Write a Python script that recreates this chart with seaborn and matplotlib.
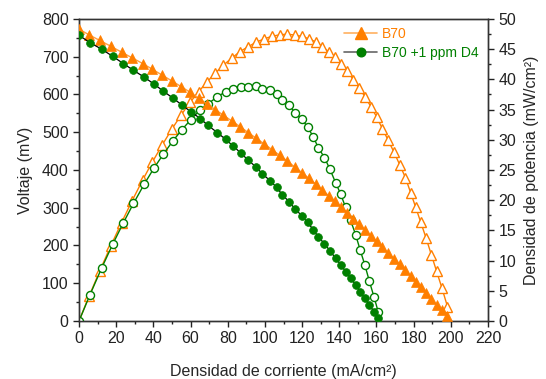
import matplotlib
matplotlib.use("Agg")
import matplotlib.pyplot as plt
from matplotlib.lines import Line2D
from matplotlib.ticker import MultipleLocator
import seaborn as sns
import pandas as pd

# ---------------- data ----------------
b70_current = [0, 5.4, 11.2, 17.0, 22.9, 28.6, 34.2, 39.4, 44.8, 49.9, 54.9, 59.7, 64.3,
               68.8, 73.3, 77.7, 82.1, 86.6, 91.0, 95.4, 99.6, 103.8, 107.9, 112.0, 116.0,
               119.9, 123.6, 127.3, 130.8, 134.3, 137.7, 141.0, 144.3, 147.5, 150.7, 153.9,
               157.0, 160.1, 163.2, 166.3, 169.4, 172.5, 175.6, 178.4, 181.1, 183.8, 186.6,
               189.5, 192.3, 195.2, 198.2]
b70_voltage = [773, 758, 743, 728, 712, 697, 682, 667, 651, 636, 621, 606, 590,
               575, 560, 545, 530, 515, 499, 484, 469, 454, 439, 424, 408,
               393, 378, 363, 347, 332, 317, 302, 287, 271, 256, 241,
               226, 211, 195, 180, 165, 150, 135, 119, 104, 89, 74,
               58, 43, 28, 12]
b70_power = [0, 4.09, 8.32, 12.38, 16.30, 19.93, 23.32, 26.28, 29.16, 31.74, 34.09, 36.18, 37.94,
             39.56, 41.05, 42.35, 43.51, 44.60, 45.41, 46.17, 46.71, 47.13, 47.37, 47.49, 47.33,
             47.12, 46.72, 46.21, 45.39, 44.59, 43.65, 42.58, 41.41, 39.97, 38.58, 37.09,
             35.48, 33.78, 31.82, 29.93, 27.95, 25.88, 23.71, 21.23, 18.83, 16.36, 13.81,
             10.99, 8.27, 5.47, 2.38]

d4_current = [0, 5.9, 12.2, 18.1, 23.8, 29.3, 35.0, 40.2, 45.3, 50.6, 55.4, 60.2, 65.3, 69.4,
              74.4, 78.9, 83.0, 87.0, 91.0, 95.2, 98.6, 102.7, 106.3, 109.4, 113.0, 116.2,
              119.8, 123.0, 126.0, 128.7, 132.0, 135.0, 138.0, 140.8, 143.4, 146.1, 148.8,
              151.2, 153.8, 156.2, 158.7, 161.0]
d4_voltage = [757, 737, 720, 701, 682, 664, 646, 628, 609, 590, 572, 554, 536, 518,
              499, 481, 463, 445, 426, 408, 390, 372, 354, 334, 316, 297,
              279, 261, 242, 223, 205, 186, 166, 149, 131, 114, 96,
              78, 60, 42, 25, 9]
d4_power = [0, 4.35, 8.78, 12.69, 16.23, 19.46, 22.61, 25.25, 27.59, 29.85, 31.69, 33.35, 35.00, 35.95,
            37.13, 37.95, 38.43, 38.72, 38.77, 38.84, 38.45, 38.20, 37.63, 36.54, 35.71, 34.51,
            33.42, 32.10, 30.49, 28.70, 27.06, 25.11, 22.91, 20.98, 18.79, 16.66, 14.28,
            11.79, 9.23, 6.56, 3.97, 1.45]

x_ticks = list(range(0, 221, 20))
y_ticks = list(range(0, 801, 100))
y2_ticks = list(range(0, 51, 5))

labels = ["B70", "B70 +1 ppm D4"]
ORANGE = "#FF7F00"
GREEN = "#008000"

df_b70 = pd.DataFrame({"I": b70_current, "V": b70_voltage, "P": b70_power})
df_d4 = pd.DataFrame({"I": d4_current, "V": d4_voltage, "P": d4_power})

# ---------------- figure ----------------
sns.set_style("ticks")
plt.rcParams["font.family"] = ["Liberation Sans", "DejaVu Sans"]
plt.rcParams["axes.edgecolor"] = "#333333"

fig = plt.figure(figsize=(5.46, 3.79), dpi=100)
ax = fig.add_axes([0.1447, 0.153, 0.7491, 0.797])
ax2 = ax.twinx()

# power curves (right axis), open markers
sns.lineplot(data=df_b70, x="I", y="P", ax=ax2, sort=False, estimator=None,
             color=ORANGE, lw=1.0, marker="^", markersize=7,
             markerfacecolor="white", markeredgecolor=ORANGE, markeredgewidth=1.0, zorder=3)
sns.lineplot(data=df_d4, x="I", y="P", ax=ax2, sort=False, estimator=None,
             color=GREEN, lw=1.0, marker="o", markersize=5.8,
             markerfacecolor="white", markeredgecolor=GREEN, markeredgewidth=1.0, zorder=3)

# voltage curves (left axis), filled markers
sns.lineplot(data=df_b70, x="I", y="V", ax=ax, sort=False, estimator=None,
             color="#FFA040", lw=1.0, marker="^", markersize=7.2,
             markerfacecolor=ORANGE, markeredgecolor=ORANGE, markeredgewidth=0.5, zorder=4)
sns.lineplot(data=df_d4, x="I", y="V", ax=ax, sort=False, estimator=None,
             color="black", lw=0.9, marker="o", markersize=5.6,
             markerfacecolor=GREEN, markeredgecolor=GREEN, markeredgewidth=0.5, zorder=4)

ax.set_zorder(ax2.get_zorder() + 1)
ax.patch.set_visible(False)

ax.set_xlim(0, 220)
ax.set_ylim(0, 800)
ax2.set_ylim(0, 50)
ax.set_xticks(x_ticks)
ax.set_yticks(y_ticks)
ax2.set_yticks(y2_ticks)
ax.xaxis.set_minor_locator(MultipleLocator(10))
ax.yaxis.set_minor_locator(MultipleLocator(50))
ax2.yaxis.set_minor_locator(MultipleLocator(2.5))

for a in (ax, ax2):
    a.tick_params(which="major", direction="out", length=4.5, width=1, labelsize=11.5,
                  colors="#222222", pad=3)
    a.tick_params(which="minor", direction="out", length=2.5, width=1, colors="#222222")
    for s in a.spines.values():
        s.set_visible(True)
        s.set_color("#333333")
        s.set_linewidth(1.0)
ax.tick_params(axis="y", which="both", right=False)
ax.tick_params(axis="x", which="both", top=False)
ax2.tick_params(axis="x", which="both", top=False, bottom=False)

ax.set_xlabel("Densidad de corriente (mA/cm²)", fontsize=11.5, labelpad=13)
ax.set_ylabel("Voltaje (mV)", fontsize=11.5, labelpad=6.5)
ax2.set_ylabel("Densidad de potencia (mW/cm²)", fontsize=11.5, labelpad=5.5)

handles = [
    Line2D([0], [0], color="#FFB060", lw=1.2, marker="^", markersize=9,
           markerfacecolor=ORANGE, markeredgecolor=ORANGE),
    Line2D([0], [0], color="#666666", lw=1.2, marker="o", markersize=6.2,
           markerfacecolor=GREEN, markeredgecolor=GREEN),
]
leg = ax.legend(handles, labels, loc="upper left", frameon=False, fontsize=10.0,
                handlelength=2.4, handletextpad=0.32, labelspacing=0.4,
                bbox_to_anchor=(0.648, 0.975), borderaxespad=0, borderpad=0)
for t, c in zip(leg.get_texts(), [ORANGE, GREEN]):
    t.set_color(c)

fig.savefig("out.png", dpi=100)
